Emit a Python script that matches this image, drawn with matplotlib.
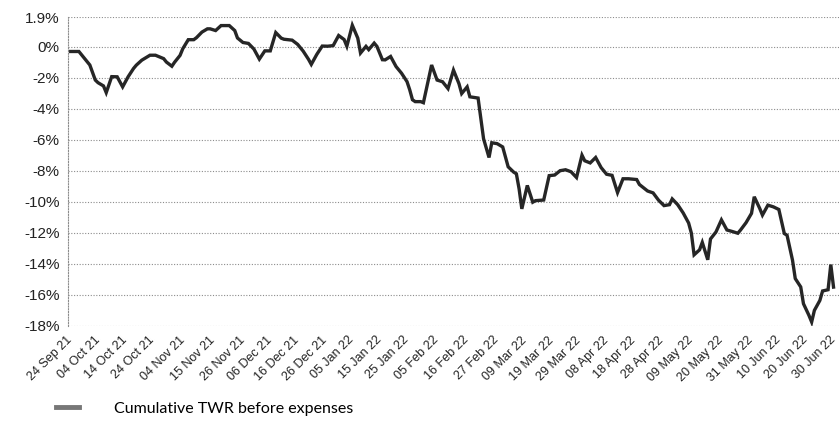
import matplotlib
matplotlib.use("Agg")
import matplotlib.pyplot as plt
import matplotlib.dates as mdates
from matplotlib.lines import Line2D
import pandas as pd

# cumulative TWR before expenses (%)
dates = [
    "2021-09-24", "2021-09-27", "2021-09-29", "2021-10-01", "2021-10-03", "2021-10-04",
    "2021-10-06", "2021-10-07", "2021-10-09", "2021-10-11", "2021-10-13", "2021-10-15",
    "2021-10-17", "2021-10-18", "2021-10-20", "2021-10-23", "2021-10-25", "2021-10-28",
    "2021-10-29", "2021-10-31", "2021-11-01", "2021-11-03", "2021-11-04", "2021-11-06",
    "2021-11-08", "2021-11-09", "2021-11-11", "2021-11-13", "2021-11-14", "2021-11-16",
    "2021-11-18", "2021-11-20", "2021-11-21", "2021-11-23", "2021-11-24", "2021-11-26",
    "2021-11-28", "2021-11-30", "2021-12-02", "2021-12-04", "2021-12-06", "2021-12-08",
    "2021-12-10", "2021-12-11", "2021-12-14", "2021-12-16", "2021-12-18", "2021-12-20",
    "2021-12-21", "2021-12-23", "2021-12-25", "2021-12-27", "2021-12-29", "2021-12-31",
    "2022-01-02", "2022-01-03", "2022-01-05", "2022-01-07", "2022-01-08", "2022-01-10",
    "2022-01-11", "2022-01-13", "2022-01-14", "2022-01-16", "2022-01-17", "2022-01-19",
    "2022-01-21", "2022-01-23", "2022-01-25", "2022-01-26", "2022-01-27", "2022-01-28",
    "2022-01-30", "2022-01-31",
    "2022-02-03", "2022-02-05", "2022-02-07", "2022-02-09", "2022-02-11", "2022-02-13",
    "2022-02-14", "2022-02-16", "2022-02-17", "2022-02-20",
    "2022-02-21", "2022-02-22", "2022-02-24", "2022-02-25", "2022-02-27", "2022-03-01",
    "2022-03-03", "2022-03-05", "2022-03-06", "2022-03-07", "2022-03-08",
    "2022-03-10", "2022-03-12", "2022-03-13", "2022-03-16", "2022-03-18", "2022-03-20",
    "2022-03-22", "2022-03-24", "2022-03-26", "2022-03-28", "2022-03-30", "2022-03-31",
    "2022-04-02", "2022-04-04", "2022-04-06",
    "2022-04-08", "2022-04-10", "2022-04-12", "2022-04-14", "2022-04-16", "2022-04-19",
    "2022-04-20", "2022-04-23", "2022-04-25", "2022-04-27", "2022-04-29", "2022-05-01",
    "2022-05-02", "2022-05-04", "2022-05-06", "2022-05-08", "2022-05-09", "2022-05-10",
    "2022-05-12", "2022-05-13", "2022-05-15", "2022-05-16", "2022-05-18", "2022-05-20",
    "2022-05-22", "2022-05-24", "2022-05-26", "2022-05-27", "2022-05-29", "2022-05-31",
    "2022-06-01", "2022-06-03", "2022-06-04", "2022-06-06", "2022-06-08", "2022-06-10",
    "2022-06-12", "2022-06-13", "2022-06-15", "2022-06-16", "2022-06-18", "2022-06-19",
    "2022-06-21", "2022-06-22", "2022-06-23", "2022-06-25", "2022-06-26", "2022-06-28",
    "2022-06-29", "2022-06-30",
]
twr = [
    -0.32, -0.32, -0.75, -1.19, -2.16, -2.33, -2.54, -2.97, -1.94, -1.95,
    -2.60, -1.95, -1.41, -1.20, -0.88, -0.56, -0.56, -0.78, -1.00, -1.27,
    -1.01, -0.57, -0.14, 0.44, 0.44, 0.57, 0.93, 1.14, 1.14, 1.03,
    1.35, 1.35, 1.35, 1.03, 0.55, 0.26, 0.20, -0.16, -0.81, -0.28,
    -0.28, 0.90, 0.54, 0.47, 0.41, 0.14, -0.29, -0.83, -1.15, -0.51,
    0.03, 0.02, 0.06, 0.71, 0.45, 0.02, 1.37, 0.54, -0.42, 0.01,
    -0.20, 0.22, 0.01, -0.85, -0.86, -0.64, -1.29, -1.72, -2.26, -2.79,
    -3.43, -3.55, -3.55, -3.62,
    -1.19, -2.16, -2.27, -2.71, -1.52, -2.39, -3.03, -2.60, -3.24, -3.32,
    -4.65, -5.94, -7.15, -6.20, -6.26, -6.47, -7.75, -8.09, -8.20, -9.17, -10.46,
    -8.95, -10.03, -9.93, -9.89, -8.32, -8.28, -8.00, -7.94, -8.07, -8.44,
    -7.00, -7.36, -7.50, -7.15, -7.80,
    -8.23, -8.30, -9.41, -8.52, -8.52, -8.57, -8.89, -9.31, -9.43, -9.90,
    -10.25, -10.19, -9.82, -10.19, -10.72, -11.37, -12.02, -13.42, -13.10, -12.62,
    -13.74, -12.40, -11.95, -11.17,
    -11.82, -11.92, -12.03, -11.82, -11.35, -10.75, -9.68, -10.43, -10.86, -10.22,
    -10.33, -10.50, -12.05, -12.16, -13.77, -14.95, -15.49, -16.57, -17.32, -17.75,
    -17.00, -16.36, -15.75, -15.67, -14.05, -15.50,
]
tick_dates = [
    "2021-09-24", "2021-10-04", "2021-10-14", "2021-10-24", "2021-11-04", "2021-11-15",
    "2021-11-26", "2021-12-06", "2021-12-16", "2021-12-26", "2022-01-05", "2022-01-15",
    "2022-01-25", "2022-02-05", "2022-02-16", "2022-02-27", "2022-03-09", "2022-03-19",
    "2022-03-29", "2022-04-08", "2022-04-18", "2022-04-28", "2022-05-09", "2022-05-20",
    "2022-05-31", "2022-06-10", "2022-06-20", "2022-06-30",
]
y_ticks = [1.9, 0, -2, -4, -6, -8, -10, -12, -14, -16, -18]
y_labels = ["1.9%", "0%", "-2%", "-4%", "-6%", "-8%", "-10%", "-12%", "-14%", "-16%", "-18%"]
series_name = "Cumulative TWR before expenses"

x = pd.to_datetime(dates)
ticks = pd.to_datetime(tick_dates)

plt.rcParams["font.family"] = ["Liberation Sans", "DejaVu Sans"]

fig = plt.figure(figsize=(8.39, 4.26), dpi=100)
ax = fig.add_axes([0.081, 0.235, 0.919, 0.725])

ax.plot(x, twr, color="#262626", lw=2.4, solid_joinstyle="miter")

ax.set_ylim(-18, 1.9)
ax.set_yticks(y_ticks)
ax.set_yticklabels(y_labels, fontsize=11, color="#222222")
ax.yaxis.grid(True, color="#8c8c8c", linestyle=(0, (1, 1.5)), lw=0.8)

ax.set_xlim(ticks[0] - pd.Timedelta(days=1), ticks[0] + pd.Timedelta(days=281))
ax.set_xticks(ticks)
ax.xaxis.set_major_formatter(mdates.DateFormatter("%d %b %y"))
plt.setp(ax.get_xticklabels(), rotation=45, ha="right", va="center",
         rotation_mode="anchor", fontsize=9, color="#222222")

ax.tick_params(length=0)
ax.tick_params(axis="y", pad=6)
ax.tick_params(axis="x", pad=9)
for side in ["top", "right", "bottom"]:
    ax.spines[side].set_visible(False)
ax.spines["left"].set_color("#8c8c8c")
ax.spines["left"].set_linestyle((0, (1, 1.5)))
ax.spines["left"].set_linewidth(0.8)

handle = Line2D([], [], color="#777777", lw=3.5)
fig.legend([handle], [series_name], loc="center left", bbox_to_anchor=(0.05, 0.04),
           frameon=False, handlelength=1.4, handletextpad=2.2,
           prop={"family": "Lato", "size": 11.5})

fig.savefig("out.png", dpi=100, facecolor="white")
